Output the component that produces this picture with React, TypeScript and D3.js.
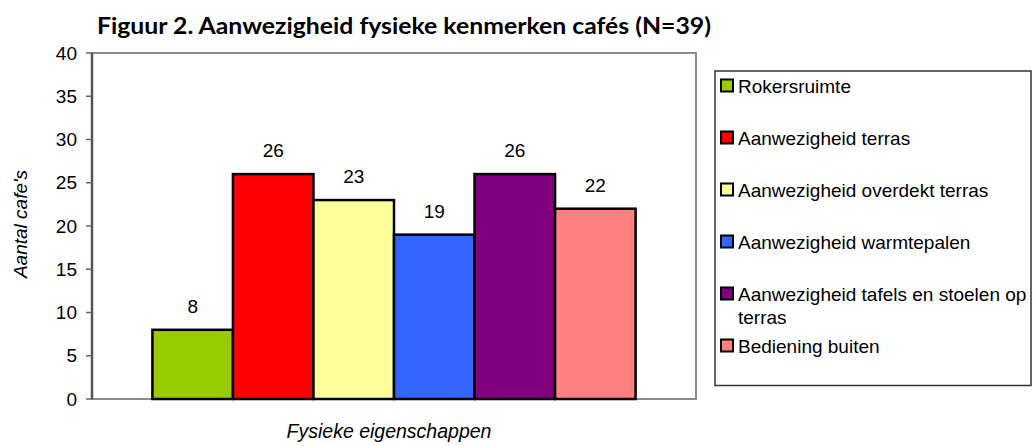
import * as d3 from "d3";

const categories = [
  "Rokersruimte",
  "Aanwezigheid terras",
  "Aanwezigheid overdekt terras",
  "Aanwezigheid warmtepalen",
  "Aanwezigheid tafels en stoelen op terras",
  "Bediening buiten",
];
const values = [8, 26, 23, 19, 26, 22];
const colors = ["#99CC00", "#FF0000", "#FFFF99", "#3366FF", "#800080", "#FF8080"];
const yTicks = [0, 5, 10, 15, 20, 25, 30, 35, 40];
// legend label lines (wrapped like the original)
const legendLines = [
  ["Rokersruimte"],
  ["Aanwezigheid terras"],
  ["Aanwezigheid overdekt terras"],
  ["Aanwezigheid warmtepalen"],
  ["Aanwezigheid tafels en stoelen op", "terras"],
  ["Bediening buiten"],
];

const W = 1033;
const H = 446;
const plot = { left: 92, right: 696, top: 53, bottom: 399 };
const font = "'Liberation Sans', Arial, sans-serif";
const fs = 19;

export default function App() {
  const y = d3.scaleLinear().domain([0, 40]).range([plot.bottom, plot.top]);
  const group = d3
    .scaleBand()
    .domain(["all"])
    .range([plot.left, plot.right])
    .paddingInner(0)
    .paddingOuter(0.125);
  const gx = group("all")!;
  const x = d3
    .scaleBand()
    .domain(categories)
    .range([gx, gx + group.bandwidth()])
    .padding(0);

  const legendRows = d3.scaleLinear().domain([0, 5]).range([86, 346]);

  return (
    <svg
      width={W}
      height={H}
      style={{ position: "absolute", left: 0, top: 0, background: "#fff" }}
      fontFamily={font}
    >
      <text
        x={97}
        y={34}
        textLength={614}
        lengthAdjust="spacingAndGlyphs"
        fontFamily="Lato, 'Open Sans', sans-serif"
        fontWeight="bold"
        fontSize={22}
        fill="#000"
      >
        Figuur 2. Aanwezigheid fysieke kenmerken cafés (N=39)
      </text>

      {/* plot frame */}
      <rect
        x={plot.left}
        y={plot.top}
        width={plot.right - plot.left}
        height={plot.bottom - plot.top}
        fill="#fff"
        stroke="#8c8c8c"
        strokeWidth={2}
      />

      {/* bars */}
      {categories.map((c, i) => (
        <rect
          key={c}
          x={x(c)!}
          y={y(values[i])}
          width={x.bandwidth()}
          height={y(0) - y(values[i])}
          fill={colors[i]}
          stroke="#000"
          strokeWidth={2.5}
        />
      ))}

      {/* value labels */}
      {categories.map((c, i) => (
        <text
          key={c + "-lbl"}
          x={x(c)! + x.bandwidth() / 2}
          y={y(values[i]) - 17}
          textAnchor="middle"
          fontSize={fs}
          fill="#000"
        >
          {values[i]}
        </text>
      ))}

      {/* y axis */}
      <line x1={plot.left} x2={plot.left} y1={plot.top} y2={plot.bottom} stroke="#555" strokeWidth={2.5} />
      {yTicks.map((t) => (
        <g key={t}>
          <line x1={plot.left - 6} x2={plot.left} y1={y(t)} y2={y(t)} stroke="#666" strokeWidth={1.5} />
          <text x={77} y={y(t)} dy="0.35em" textAnchor="end" fontSize={fs} fill="#000">
            {t}
          </text>
        </g>
      ))}

      <text
        transform={`translate(20,${224}) rotate(-90)`}
        textAnchor="middle"
        dy="0.35em"
        fontSize={fs}
        fontStyle="italic"
        fill="#000"
      >
        Aantal cafe's
      </text>

      <text x={389} y={438} textAnchor="middle" fontSize={19.5} fontStyle="italic" fill="#000">
        Fysieke eigenschappen
      </text>

      {/* legend */}
      <rect x={715} y={71} width={316} height={314.5} fill="#fff" stroke="#333" strokeWidth={1.5} />
      {legendLines.map((lines, i) => (
        <g key={i} transform={`translate(0,${legendRows(i)})`}>
          <rect x={721} y={-6.5} width={12} height={12} fill={colors[i]} stroke="#000" strokeWidth={2} />
          {lines.map((ln, j) => (
            <text key={j} x={738} y={j * 23} dy="0.35em" fontSize={fs} fill="#000">
              {ln}
            </text>
          ))}
        </g>
      ))}
    </svg>
  );
}
